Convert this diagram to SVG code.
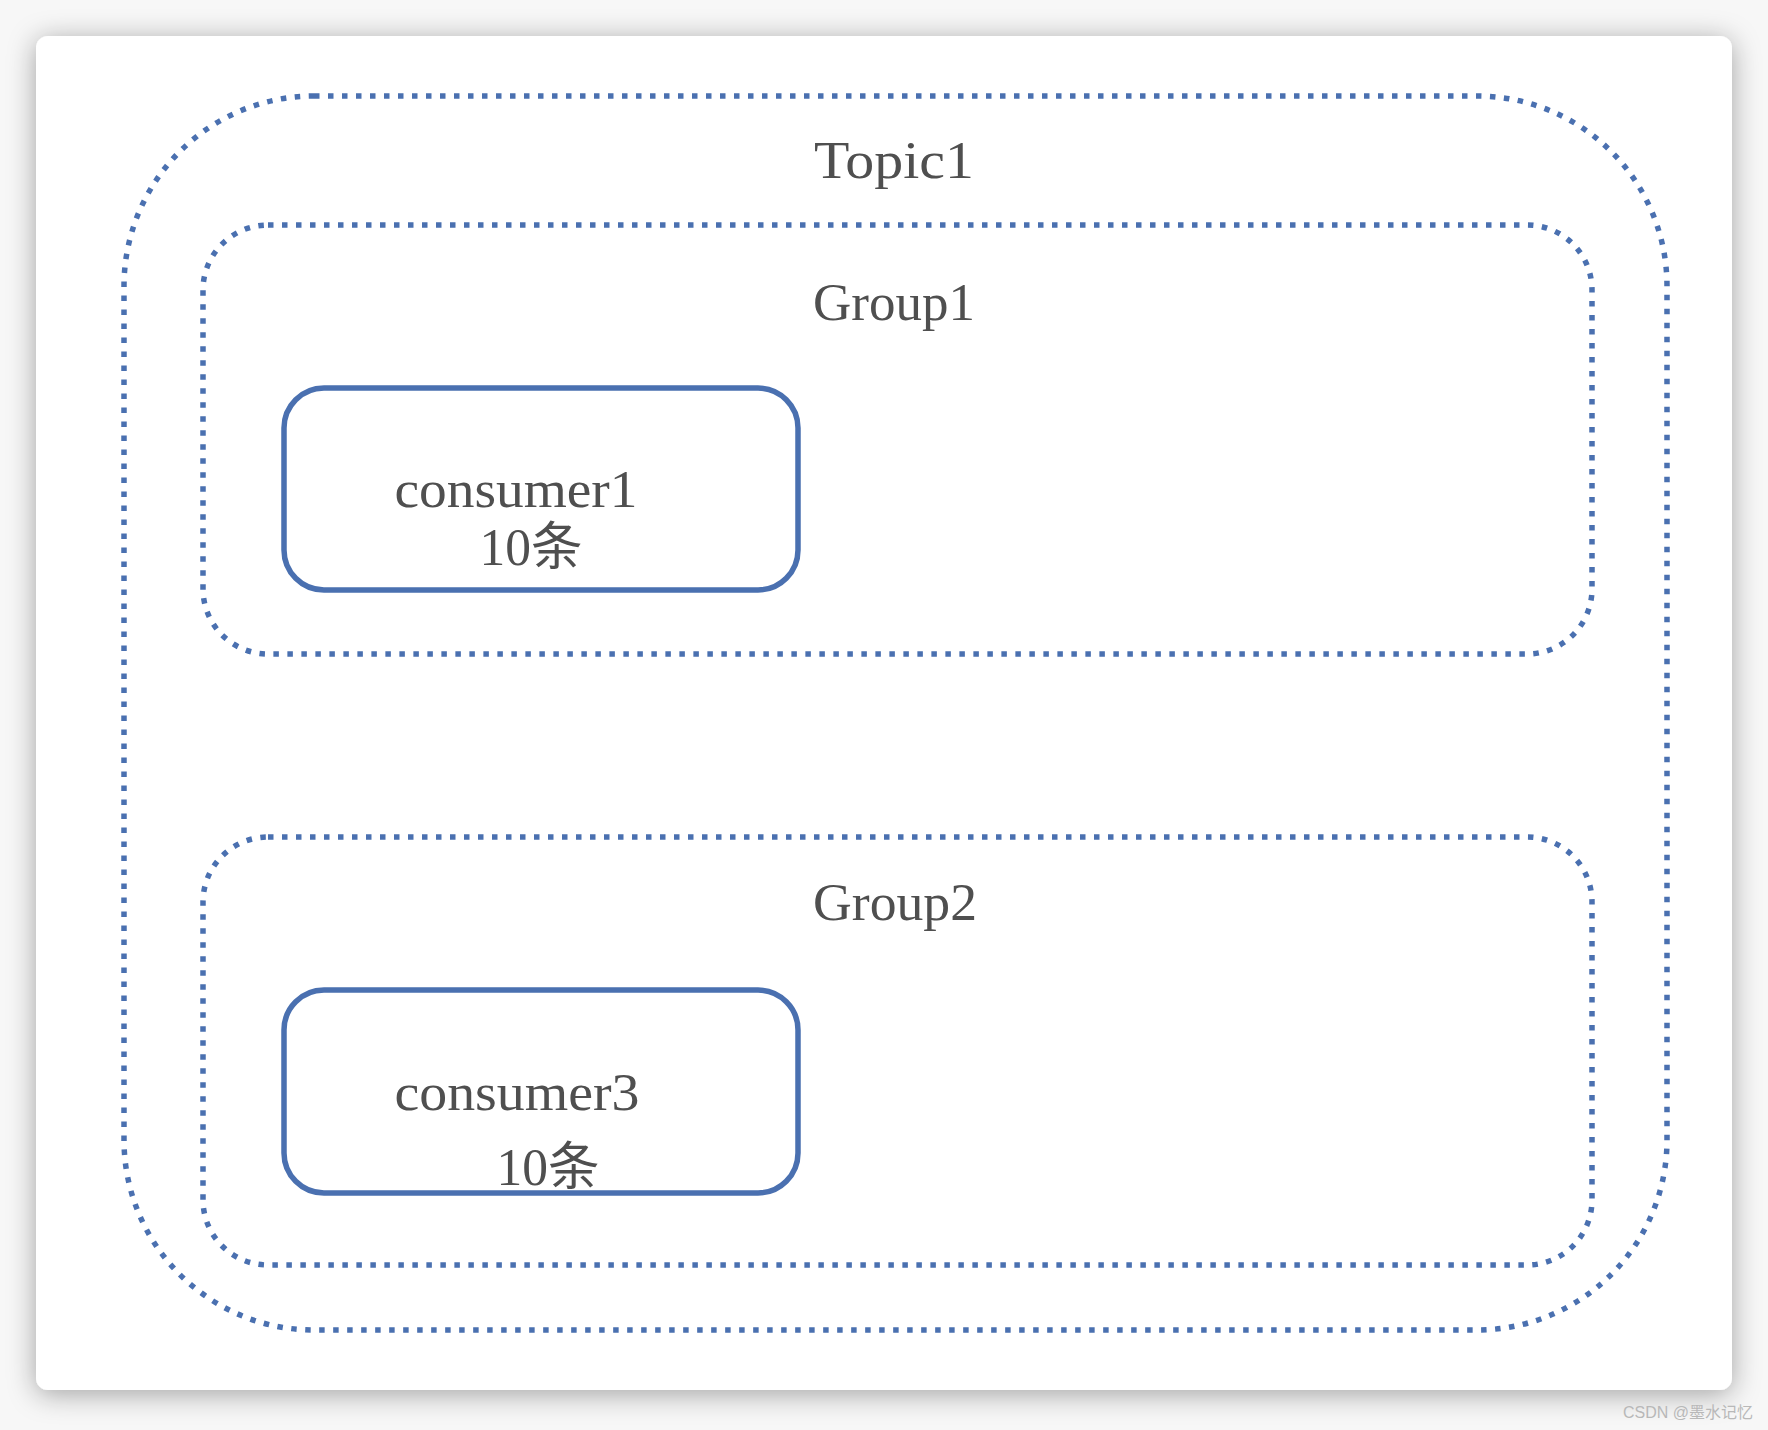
<svg xmlns="http://www.w3.org/2000/svg" width="1768" height="1430" viewBox="0 0 1768 1430">
<defs>
<filter id="sh" x="-10%" y="-10%" width="120%" height="120%">
<feDropShadow dx="0" dy="4" stdDeviation="14" flood-color="#000" flood-opacity="0.35"/>
</filter>
<style>
.dot{fill:none;stroke:#4a70b0;stroke-width:5.5;stroke-dasharray:5.5 8.5}
.box{fill:none;stroke:#4a70b0;stroke-width:5.5}
.t{font-family:"Liberation Serif","Noto Sans CJK SC",serif;font-size:52px;fill:#4f4f4f}
.wm{font-family:"Liberation Sans","Noto Sans CJK SC",sans-serif;font-size:16px;fill:#b8b8b8}
</style>
</defs>
<rect x="0" y="0" width="1768" height="1430" fill="#f7f7f7"/>
<rect x="36" y="36" width="1696" height="1354" rx="12" fill="#ffffff" filter="url(#sh)"/>
<g id="topic1">
<rect class="dot" x="124" y="96" width="1543" height="1234" rx="190"/>
<text class="t" x="894" y="178" text-anchor="middle" textLength="160" lengthAdjust="spacingAndGlyphs">Topic1</text>
</g>
<g id="group1">
<rect class="dot" x="203" y="225" width="1389" height="429" rx="65"/>
<text class="t" x="894" y="320" text-anchor="middle" textLength="162" lengthAdjust="spacingAndGlyphs">Group1</text>
</g>
<g id="group2">
<rect class="dot" x="203" y="837" width="1389" height="428" rx="65"/>
<text class="t" x="895" y="920" text-anchor="middle" textLength="164" lengthAdjust="spacingAndGlyphs">Group2</text>
</g>
<g id="consumer1">
<rect class="box" x="284" y="388" width="514" height="202" rx="40"/>
<text class="t" x="516" y="507" text-anchor="middle" textLength="243" lengthAdjust="spacingAndGlyphs">consumer1</text>
<text class="t" x="531" y="565" text-anchor="middle" textLength="103" lengthAdjust="spacingAndGlyphs">10条</text>
</g>
<g id="consumer3">
<rect class="box" x="284" y="990" width="514" height="203" rx="40"/>
<text class="t" x="517" y="1110" text-anchor="middle" textLength="245" lengthAdjust="spacingAndGlyphs">consumer3</text>
<text class="t" x="548" y="1185" text-anchor="middle" textLength="103" lengthAdjust="spacingAndGlyphs">10条</text>
</g>
<g id="connectors"></g>
<text class="wm" x="1753" y="1418" text-anchor="end">CSDN @墨水记忆</text>
</svg>
